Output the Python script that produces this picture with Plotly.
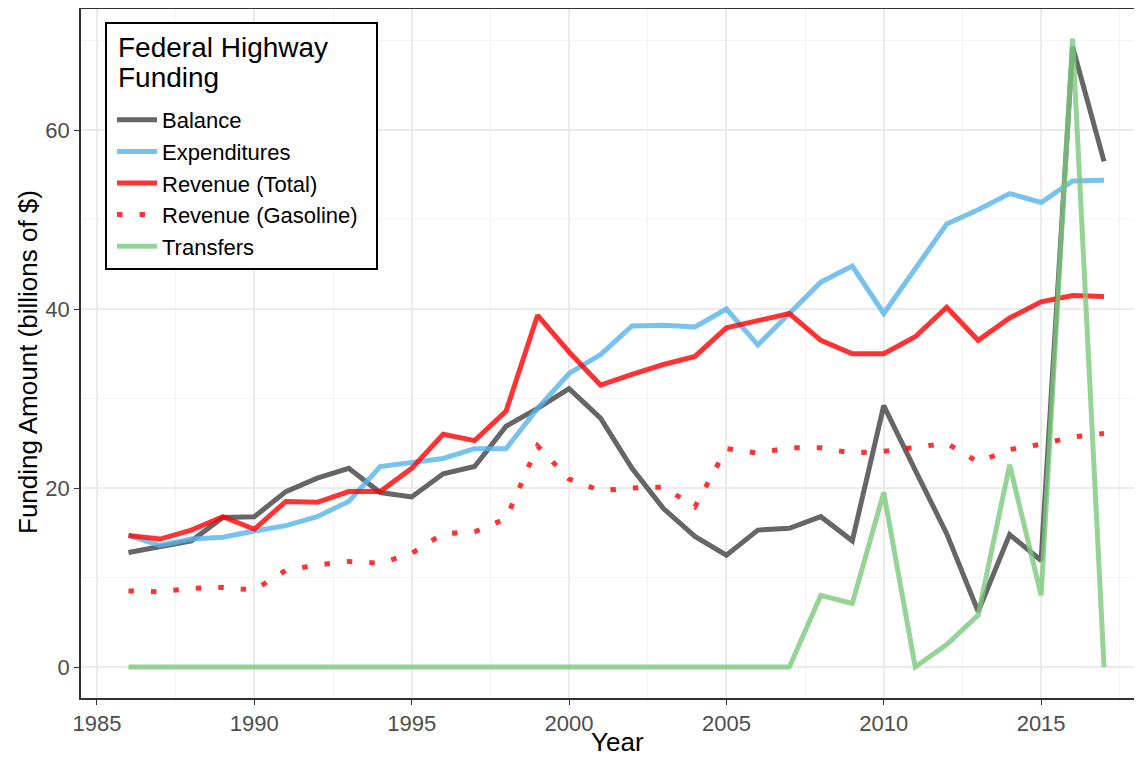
import plotly.graph_objects as go

years = list(range(1986, 2018))

balance = [12.8, 13.5, 14.1, 16.7, 16.8, 19.6, 21.1, 22.2, 19.5, 19.0,
           21.6, 22.4, 26.9, 28.9, 31.1, 27.8, 22.2, 17.7, 14.6, 12.5,
           15.3, 15.5, 16.8, 14.1, 29.2, 22.0, 14.9, 6.2, 14.8, 11.9,
           69.3, 56.5]

expenditures = [14.7, 13.6, 14.3, 14.5, 15.2, 15.8, 16.8, 18.5, 22.4, 22.8,
                23.3, 24.4, 24.4, 28.9, 32.8, 34.9, 38.1, 38.2, 38.0, 40.0,
                36.0, 39.5, 43.0, 44.8, 39.5, 44.5, 49.5, 51.1, 52.9, 51.9,
                54.3, 54.4]

revenue_total = [14.7, 14.3, 15.3, 16.8, 15.4, 18.5, 18.4, 19.6, 19.6, 22.2,
                 26.0, 25.3, 28.6, 39.3, 35.2, 31.5, 32.7, 33.8, 34.7, 37.9,
                 38.7, 39.5, 36.5, 35.0, 35.0, 36.9, 40.2, 36.5, 39.0, 40.8,
                 41.5, 41.4]

revenue_gasoline = [8.5, 8.4, 8.8, 8.9, 8.6, 10.8, 11.4, 11.8, 11.6, 12.7,
                    14.9, 15.1, 16.6, 24.7, 21.0, 19.7, 20.0, 20.1, 17.9, 24.4,
                    23.9, 24.5, 24.5, 23.9, 24.1, 24.5, 25.0, 22.9, 24.3, 24.9,
                    25.7, 26.1]

transfers = [0, 0, 0, 0, 0, 0, 0, 0, 0, 0,
             0, 0, 0, 0, 0, 0, 0, 0, 0, 0,
             0, 0, 8.0, 7.1, 19.5, 0, 2.5, 5.8, 22.6, 8.0,
             70.2, 0]

x_ticks = [1985, 1990, 1995, 2000, 2005, 2010, 2015]
y_ticks = [0, 20, 40, 60]

legend_title_lines = ["Federal Highway", "Funding"]

FONT = "Liberation Sans, Arial, sans-serif"

series = [
    ("Balance", balance, "rgba(64,64,64,0.8)", "solid"),
    ("Expenditures", expenditures, "rgba(86,180,233,0.8)", "solid"),
    ("Revenue (Total)", revenue_total, "rgba(255,0,0,0.8)", "solid"),
    ("Revenue (Gasoline)", revenue_gasoline, "rgba(255,0,0,0.8)", "5.5px,17px"),
    ("Transfers", transfers, "rgba(124,200,124,0.8)", "solid"),
]

fig = go.Figure()
for i, (name, vals, color, dash) in enumerate(series):
    fig.add_trace(go.Scatter(
        x=years, y=vals, mode="lines", name=name,
        legendgroup=f"g{i}",
        line=dict(color=color, width=5, dash=dash),
    ))

# page offset of 8px (body margin). Plot area in page px: x 81..1142, y 9..698
PL, PR, PT, PB = 81, 1142, 9, 698


def px(xp):
    return (xp - PL) / (PR - PL)


def py(yp):
    return (PB - yp) / (PB - PT)


annotations = [
    dict(text="Year", xref="paper", yref="paper", x=px(617), y=py(742),
         xanchor="center", yanchor="middle", showarrow=False,
         font=dict(size=26, color="black", family=FONT)),
    dict(text="Funding Amount (billions of $)", xref="paper", yref="paper",
         x=px(28), y=py(362), textangle=-90,
         xanchor="center", yanchor="middle", showarrow=False,
         font=dict(size=26, color="black", family=FONT)),
]
for line_text, yc in zip(legend_title_lines, [47.5, 77.5]):
    annotations.append(dict(text=line_text, xref="paper", yref="paper", x=px(116), y=py(yc),
                            xanchor="left", yanchor="middle", showarrow=False,
                            font=dict(size=28, color="black", family=FONT)))

fig.update_layout(
    width=1134, height=749,
    margin=dict(l=73, r=0, t=1, b=59),
    paper_bgcolor="white", plot_bgcolor="white",
    font=dict(family=FONT, color="black"),
    showlegend=True,
    legend=dict(
        x=px(112), y=py(99), xanchor="left", yanchor="top",
        bgcolor="rgba(0,0,0,0)", borderwidth=0,
        font=dict(size=22, color="black", family=FONT),
        tracegroupgap=0,
        itemwidth=40,
    ),
    shapes=[
        dict(type="rect", xref="paper", yref="paper",
             x0=px(106), x1=px(377), y0=py(269), y1=py(23),
             line=dict(color="black", width=2), fillcolor="white", layer="above"),
    ],
    annotations=annotations,
)

fig.update_xaxes(
    range=[1984.492, 2018.206], automargin=False,
    tickmode="array", tickvals=x_ticks, ticktext=[str(v) for v in x_ticks],
    showgrid=True, gridcolor="#ebebeb", gridwidth=1.6,
    minor=dict(tickmode="array", tickvals=[1987.5, 1992.5, 1997.5, 2002.5, 2007.5, 2012.5, 2017.5],
               showgrid=True, gridcolor="#f4f4f4", gridwidth=0.9, ticks=""),
    showline=True, linecolor="#333333", linewidth=1.6, mirror=True,
    ticks="outside", ticklen=5, tickwidth=1.3, tickcolor="#333333",
    tickfont=dict(size=22, color="#4d4d4d", family=FONT),
    zeroline=False,
)
fig.update_yaxes(
    range=[-3.46, 73.52], automargin=False,
    tickmode="array", tickvals=y_ticks, ticktext=[str(v) for v in y_ticks],
    showgrid=True, gridcolor="#ebebeb", gridwidth=1.6,
    minor=dict(tickmode="array", tickvals=[10, 30, 50, 70],
               showgrid=True, gridcolor="#f4f4f4", gridwidth=0.9, ticks=""),
    showline=True, linecolor="#333333", linewidth=1.6,
    ticks="outside", ticklen=5, tickwidth=1.3, tickcolor="#333333",
    tickfont=dict(size=22, color="#4d4d4d", family=FONT),
    zeroline=False,
)

fig.write_html("out.html")
